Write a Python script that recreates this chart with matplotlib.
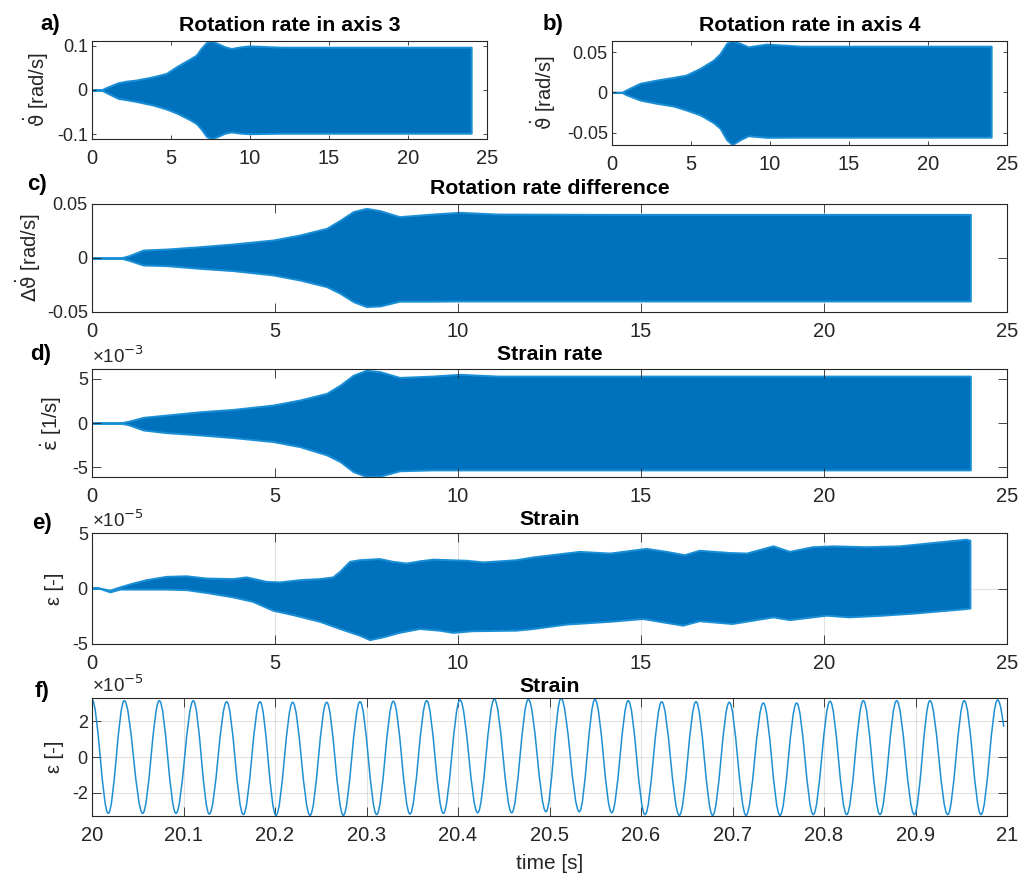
import numpy as np
import matplotlib
matplotlib.use('Agg')
import matplotlib.pyplot as plt
from matplotlib.path import Path
from matplotlib.patches import PathPatch
from matplotlib.ticker import FuncFormatter, FixedLocator

plt.rcParams['font.family'] = ['Liberation Sans', 'DejaVu Sans']
plt.rcParams['mathtext.fontset'] = 'dejavusans'
plt.rcParams['axes.unicode_minus'] = False

# ---------------- data (envelopes) ----------------
# a) rotation rate axis 3 [rad/s]
a_t  = [0, 0.6, 0.8, 1.65, 2.17, 2.8, 3.86, 4.7, 5.34, 6.18, 6.6, 6.9, 7.24, 7.56, 7.97, 8.4, 8.82, 9.45, 9.95, 12, 15, 18, 21, 24.0]
a_up = [0, 0, 0.004, 0.0165, 0.020, 0.0226, 0.030, 0.0376, 0.0527, 0.070, 0.079, 0.094, 0.1076, 0.111, 0.105, 0.098, 0.094, 0.098, 0.100, 0.097, 0.097, 0.097, 0.097, 0.097]
a_lo = [0, 0, -0.004, -0.019, -0.022, -0.026, -0.034, -0.043, -0.052, -0.067, -0.076, -0.088, -0.105, -0.1106, -0.105, -0.098, -0.095, -0.098, -0.099, -0.098, -0.098, -0.098, -0.098, -0.098]

# b) rotation rate axis 4 [rad/s]
b_t  = [0, 0.62, 0.9, 1.77, 2.83, 3.88, 4.7, 5.57, 6.42, 6.84, 7.26, 7.6, 8.1, 8.62, 9.77, 12, 15, 18, 21, 24.0]
b_up = [0, 0, 0.003, 0.0112, 0.0153, 0.0186, 0.0215, 0.0298, 0.040, 0.048, 0.061, 0.064, 0.061, 0.0566, 0.060, 0.0574, 0.0574, 0.0574, 0.0574, 0.0574]
b_lo = [0, 0, -0.003, -0.0096, -0.0137, -0.017, -0.022, -0.028, -0.0377, -0.0447, -0.059, -0.065, -0.059, -0.054, -0.056, -0.0558, -0.0558, -0.0558, -0.0558, -0.0558]

# c) rotation rate difference [rad/s]
c_t  = [0, 0.77, 1.0, 1.4, 2.04, 2.95, 3.86, 4.95, 5.68, 6.41, 6.78, 7.14, 7.5, 7.87, 8.4, 9.3, 10.05, 11.1, 14, 17, 20, 24.0]
c_up = [0, 0, 0.002, 0.0074, 0.0083, 0.0105, 0.013, 0.0167, 0.0213, 0.0275, 0.035, 0.043, 0.046, 0.0438, 0.0383, 0.0407, 0.0423, 0.0407, 0.0404, 0.0404, 0.0404, 0.0404]
c_lo = [0, 0, -0.002, -0.0065, -0.0071, -0.0096, -0.0117, -0.0157, -0.0204, -0.0265, -0.0327, -0.0404, -0.045, -0.0444, -0.040, -0.040, -0.0398, -0.0398, -0.0398, -0.0398, -0.0398, -0.0398]

# d) strain rate [1e-3 1/s]
d_t  = c_t
d_up = [0, 0, 0.2, 0.64, 0.9, 1.27, 1.54, 2.03, 2.6, 3.35, 4.28, 5.4, 5.97, 5.8, 5.15, 5.3, 5.5, 5.3, 5.3, 5.3, 5.3, 5.3]
d_lo = [0, 0, -0.2, -0.79, -1.09, -1.35, -1.65, -2.1, -2.67, -3.6, -4.36, -5.5, -6.05, -6.0, -5.4, -5.3, -5.3, -5.3, -5.3, -5.3, -5.3, -5.3]
d_scale = 1e-3

# e) strain [1e-5]
eu_t = [0, 0.2, 0.5, 0.77, 1.13, 1.49, 2.04, 2.59, 3.13, 3.86, 4.23, 4.77, 5.13, 5.68, 6.23, 6.59, 6.78, 7.05, 7.32, 7.87, 8.23, 8.6, 8.96, 9.33, 10.24, 10.7, 11.6, 12.06, 13.33, 14.16, 15.15, 15.7, 16.2, 16.6, 17.43, 17.9, 18.62, 19.07, 19.7, 20.26, 21.17, 22.08, 22.99, 23.9, 24.0]
eu_v = [0, 0, -0.2, 0.1, 0.45, 0.75, 1.05, 1.1, 0.9, 0.85, 1.0, 0.6, 0.55, 0.75, 0.85, 1.0, 1.5, 2.4, 2.55, 2.65, 2.4, 2.25, 2.45, 2.6, 2.5, 2.35, 2.55, 2.8, 3.3, 3.15, 3.57, 3.3, 3.0, 3.4, 3.2, 3.15, 3.8, 3.3, 3.72, 3.8, 3.72, 3.8, 4.1, 4.4, 4.3]
el_t = [0, 0.2, 0.5, 0.77, 1.13, 1.5, 2.04, 2.59, 3.13, 3.86, 4.4, 4.95, 5.5, 6.23, 6.78, 7.32, 7.6, 7.96, 8.4, 8.96, 9.5, 9.87, 10.4, 11.6, 12.06, 12.97, 14.16, 15.06, 16.15, 16.6, 17.5, 18.62, 19.07, 20.08, 20.7, 21.6, 22.5, 23.9, 24.0]
el_v = [0, 0, -0.35, -0.1, -0.1, -0.1, -0.1, -0.15, -0.4, -0.8, -1.2, -2.0, -2.4, -3.0, -3.65, -4.25, -4.65, -4.4, -4.0, -3.65, -3.8, -4.0, -3.85, -3.8, -3.65, -3.25, -3.0, -2.75, -3.35, -2.95, -3.2, -2.6, -2.85, -2.45, -2.6, -2.45, -2.25, -1.85, -1.8]
e_scale = 1e-5

# f) strain, zoom 20..21 s [1e-5]: extrema of the oscillation
f_peak_t = [20.0, 20.0353, 20.0736, 20.1107, 20.1472, 20.1836, 20.2193, 20.2565, 20.2929, 20.3293, 20.3658, 20.4022, 20.4397,
            20.4769, 20.5126, 20.5497, 20.5861, 20.6226, 20.6601, 20.6965, 20.7337, 20.7701, 20.8066, 20.8430, 20.8794, 20.9158, 20.9533, 20.9898]
f_peak_v = [3.2, 3.13, 3.13, 3.13, 3.07, 3.07, 3.04, 3.04, 3.07, 3.1, 3.13, 3.17, 3.22,
            3.2, 3.26, 3.2, 3.13, 3.07, 3.07, 3.04, 3.0, 3.0, 3.1, 3.13, 3.13, 3.13, 3.13, 3.17]
f_trough_t = [20.0178, 20.0554, 20.0918, 20.1282, 20.1654, 20.2011, 20.2383, 20.2747, 20.3111, 20.3475, 20.3840, 20.4215,
              20.4587, 20.4962, 20.5326, 20.5680, 20.6044, 20.6419, 20.6783, 20.7148, 20.7519, 20.7883, 20.8248, 20.8612, 20.8987, 20.9352, 20.9716]
f_trough_v = [-3.13, -3.13, -3.13, -3.17, -3.2, -3.24, -3.24, -3.24, -3.2, -3.17, -3.13, -3.1,
              -3.1, -3.04, -3.04, -3.1, -3.2, -3.24, -3.24, -3.24, -3.24, -3.2, -3.2, -3.2, -3.2, -3.2, -3.2]
f_end_t, f_end_v = 20.9964, 1.68
f_scale = 1e-5

# ---------------- styling ----------------
SIG = '#0072BD'
EDGE = '#1b8fd6'
LINE_F = '#1f8fd3'
AX = '#262626'
W, H = 1019, 877
fig = plt.figure(figsize=(W / 100, H / 100), dpi=100)


def add_axes(l, r, t, b):
    return fig.add_axes([l / W, 1 - b / H, (r - l) / W, (b - t) / H])


def fmt_g(v, p):
    return '%g' % round(v, 6)


def style(ax, ticklen, grid=False):
    for s in ax.spines.values():
        s.set_color(AX)
        s.set_linewidth(0.8)
    ax.tick_params(direction='in', top=True, right=True, length=ticklen, width=0.6,
                   color=AX, labelcolor=AX)
    ax.tick_params(axis='x', labelsize=14.5, pad=7.5)
    ax.tick_params(axis='y', labelsize=13, pad=3)
    if grid:
        ax.grid(True, color=AX, alpha=0.13, linewidth=0.8)
        ax.set_axisbelow(True)


def band(ax, t, up, lo, scale=1.0):
    ax.fill_between(t, np.asarray(lo) * scale, np.asarray(up) * scale,
                    facecolor=SIG, edgecolor=EDGE, linewidth=1.4)


def title(ax, txt, pad):
    ax.set_title(txt, fontsize=15.3, fontweight='bold', pad=pad, color='black')


def plabel(x, y, txt):
    fig.text(x / W, 1 - y / H, txt, fontsize=16, fontweight='bold', va='baseline', ha='left')


def exponent(ax, txt):
    ax.annotate('×10$^{%s}$' % txt, xy=(0, 1), xycoords='axes fraction', xytext=(0, 4),
                textcoords='offset points', va='baseline', ha='left', fontsize=13.5, color=AX)


THETA_DOT = r'$\dot{\mathrm{\vartheta}}$'
EPS_DOT = r'$\dot{\mathrm{\varepsilon}}$'

# a)
ax = add_axes(92, 487, 41, 139)
band(ax, a_t, a_up, a_lo)
ax.set_xlim(0, 25); ax.set_ylim(-0.111, 0.111)
ax.xaxis.set_major_locator(FixedLocator([0, 5, 10, 15, 20, 25]))
ax.yaxis.set_major_locator(FixedLocator([-0.1, 0, 0.1]))
ax.xaxis.set_major_formatter(FuncFormatter(fmt_g)); ax.yaxis.set_major_formatter(FuncFormatter(fmt_g))
style(ax, 3)
ax.set_ylabel(THETA_DOT + ' [rad/s]', fontsize=14.5, color=AX, labelpad=4)
title(ax, 'Rotation rate in axis 3', 7.5)
plabel(40, 30, 'a)')

# b)
ax = add_axes(612, 1007, 41, 145)
band(ax, b_t, b_up, b_lo)
ax.set_xlim(0, 25); ax.set_ylim(-0.0655, 0.0638)
ax.xaxis.set_major_locator(FixedLocator([0, 5, 10, 15, 20, 25]))
ax.yaxis.set_major_locator(FixedLocator([-0.05, 0, 0.05]))
ax.xaxis.set_major_formatter(FuncFormatter(fmt_g)); ax.yaxis.set_major_formatter(FuncFormatter(fmt_g))
style(ax, 3)
ax.set_ylabel(THETA_DOT + ' [rad/s]', fontsize=14.5, color=AX, labelpad=6)
title(ax, 'Rotation rate in axis 4', 7.5)
plabel(543, 30, 'b)')

# c)
ax = add_axes(92, 1007, 204, 312)
band(ax, c_t, c_up, c_lo)
ax.set_xlim(0, 25); ax.set_ylim(-0.05, 0.05)
ax.xaxis.set_major_locator(FixedLocator([0, 5, 10, 15, 20, 25]))
ax.yaxis.set_major_locator(FixedLocator([-0.05, 0, 0.05]))
ax.xaxis.set_major_formatter(FuncFormatter(fmt_g)); ax.yaxis.set_major_formatter(FuncFormatter(fmt_g))
style(ax, 6.5)
ax.set_ylabel(r'$\Delta$' + THETA_DOT + ' [rad/s]', fontsize=14.5, color=AX, labelpad=3)
title(ax, 'Rotation rate difference', 7.0)
plabel(27, 190, 'c)')

# d)
ax = add_axes(92, 1007, 369, 477)
band(ax, d_t, d_up, d_lo, d_scale)
ax.set_xlim(0, 25); ax.set_ylim(-6.1e-3, 6.1e-3)
ax.xaxis.set_major_locator(FixedLocator([0, 5, 10, 15, 20, 25]))
ax.yaxis.set_major_locator(FixedLocator([-5e-3, 0, 5e-3]))
ax.xaxis.set_major_formatter(FuncFormatter(fmt_g))
ax.yaxis.set_major_formatter(FuncFormatter(lambda v, p: '%g' % round(v / d_scale, 6)))
style(ax, 6.5)
ax.set_ylabel(EPS_DOT + ' [1/s]', fontsize=14.5, color=AX, labelpad=6)
title(ax, 'Strain rate', 6.5)
exponent(ax, '-3')
plabel(30, 360, 'd)')

# e)
ax = add_axes(92, 1007, 533, 644)
ax.fill(np.concatenate([eu_t, el_t[::-1]]),
        np.concatenate([eu_v, el_v[::-1]]) * e_scale,
        facecolor=SIG, edgecolor=EDGE, linewidth=1.4)
ax.set_xlim(0, 25); ax.set_ylim(-5e-5, 5e-5)
ax.xaxis.set_major_locator(FixedLocator([0, 5, 10, 15, 20, 25]))
ax.yaxis.set_major_locator(FixedLocator([-5e-5, 0, 5e-5]))
ax.xaxis.set_major_formatter(FuncFormatter(fmt_g))
ax.yaxis.set_major_formatter(FuncFormatter(lambda v, p: '%g' % round(v / e_scale, 6)))
style(ax, 6.5, grid=True)
ax.set_ylabel('ε [-]', fontsize=14.5, color=AX, labelpad=6)
title(ax, 'Strain', 5.8)
exponent(ax, '-5')
plabel(32, 529, 'e)')

# f)
ax = add_axes(92, 1007, 698, 816)
ext_t = np.concatenate([f_peak_t, f_trough_t])
ext_v = np.concatenate([f_peak_v, f_trough_v]) * f_scale
order = np.argsort(ext_t)
ext_t, ext_v = ext_t[order], ext_v[order]
K = 1 - 2 / np.pi  # cubic Bezier handle for a half-cycle between extrema
verts = [(ext_t[0], ext_v[0])]
codes = [Path.MOVETO]
for i in range(len(ext_t) - 1):
    t0, v0, t1, v1 = ext_t[i], ext_v[i], ext_t[i + 1], ext_v[i + 1]
    dt = t1 - t0
    verts += [(t0 + K * dt, v0), (t1 - K * dt, v1), (t1, v1)]
    codes += [Path.CURVE4] * 3
t0, v0 = ext_t[-1], ext_v[-1]
dt = f_end_t - t0
verts += [(t0 + 0.5 * dt, v0), (f_end_t, f_end_v * f_scale), (f_end_t, f_end_v * f_scale)]
codes += [Path.CURVE4] * 3
ax.add_patch(PathPatch(Path(verts, codes), facecolor='none', edgecolor=LINE_F,
                       linewidth=1.1, transform=ax.transData))
ax.set_xlim(20, 21); ax.set_ylim(-3.28e-5, 3.28e-5)
ax.xaxis.set_major_locator(FixedLocator(np.round(np.arange(20, 21.001, 0.1), 1)))
ax.yaxis.set_major_locator(FixedLocator([-2e-5, 0, 2e-5]))
ax.xaxis.set_major_formatter(FuncFormatter(fmt_g))
ax.yaxis.set_major_formatter(FuncFormatter(lambda v, p: '%g' % round(v / f_scale, 6)))
style(ax, 6.5, grid=True)
ax.set_ylabel('ε [-]', fontsize=14.5, color=AX, labelpad=6)
ax.set_xlabel('time [s]', fontsize=15, color=AX, labelpad=6)
title(ax, 'Strain', 4.3)
exponent(ax, '-5')
plabel(35, 697, 'f)')

fig.savefig('out.png', dpi=100)
